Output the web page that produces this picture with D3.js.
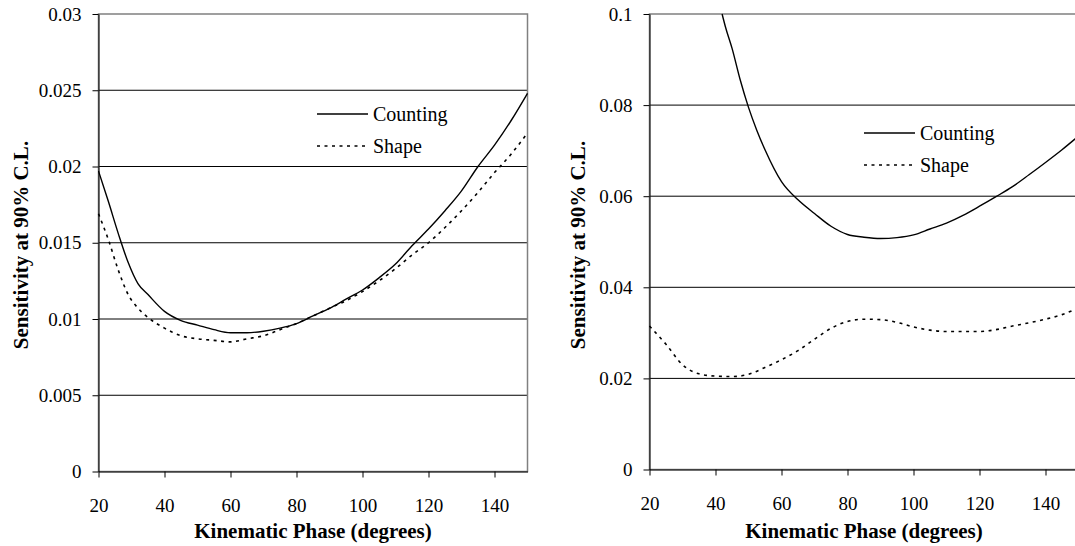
<!DOCTYPE html>
<html>
<head>
<meta charset="utf-8">
<script src="https://cdn.jsdelivr.net/npm/d3@7"></script>
<style>
  body { margin: 0; background: #fff; }
  svg, svg text { font-family: "Liberation Serif", "Times New Roman", serif; }
  svg { display: block; }
  .title { font-size: 21px; font-weight: bold; }
  .legend text { font-size: 20px; }
</style>
</head>
<body>
<div id="wrapper"></div>
<script>
// left panel
const leftPhase = [20, 23, 26, 29, 32, 35, 40, 45, 50, 55, 60, 65, 70, 75, 80, 85, 90, 95,
  100, 105, 110, 115, 120, 125, 130, 135, 140, 145, 150];
const leftCounting = [0.0197, 0.0177, 0.0156, 0.0137, 0.0123, 0.0116, 0.0105, 0.0099, 0.0096,
  0.0093, 0.0091, 0.0091, 0.0092, 0.0094, 0.0097, 0.0102, 0.0107, 0.0113, 0.0119, 0.0127,
  0.0136, 0.0148, 0.0159, 0.0171, 0.0184, 0.0200, 0.0214, 0.0230, 0.0248];
const leftShape = [0.0169, 0.0152, 0.0132, 0.0116, 0.0107, 0.0101, 0.0094, 0.0089, 0.0087,
  0.0086, 0.0085, 0.0087, 0.0089, 0.0093, 0.0097, 0.0102, 0.0107, 0.0112, 0.0118, 0.0125,
  0.0133, 0.0142, 0.0150, 0.0160, 0.0171, 0.0183, 0.0196, 0.0208, 0.0222];
const leftTicks = [0, 0.005, 0.01, 0.015, 0.02, 0.025, 0.03];

// right panel
const rightCountPhase = [42, 43, 45, 47.5, 50, 52.5, 55, 60, 65, 70, 75, 80, 85, 90, 95, 100,
  105, 110, 115, 120, 125, 130, 135, 140, 145, 150];
const rightCounting = [0.1, 0.0972, 0.0925, 0.0855, 0.0795, 0.0745, 0.0702, 0.0632, 0.0592,
  0.0562, 0.0534, 0.0516, 0.0510, 0.0507, 0.0509, 0.0515, 0.0528, 0.0541, 0.0558, 0.0578,
  0.0599, 0.0621, 0.0647, 0.0674, 0.0702, 0.0732];
const rightShapePhase = [20, 25, 30, 35, 40, 45, 50, 55, 60, 65, 70, 75, 80, 85, 90, 95, 100,
  105, 110, 115, 120, 125, 130, 135, 140, 145, 150];
const rightShape = [0.0315, 0.0275, 0.0230, 0.0210, 0.0205, 0.0204, 0.0209, 0.0224, 0.0241,
  0.0261, 0.0286, 0.0310, 0.0325, 0.0330, 0.0329, 0.0323, 0.0313, 0.0306, 0.0303, 0.0303,
  0.0303, 0.0307, 0.0315, 0.0322, 0.0330, 0.0340, 0.0355];
const rightTicks = [0, 0.02, 0.04, 0.06, 0.08, 0.1];

const phaseTicks = [20, 40, 60, 80, 100, 120, 140];
const seriesNames = ["Counting", "Shape"];
const xTitle = "Kinematic Phase (degrees)";
const yTitle = "Sensitivity at 90% C.L.";

const svg = d3.select("#wrapper")
  .append("svg")
  .attr("width", 1075)
  .attr("height", 546);

function zip(xs, ys) {
  return xs.map((x, i) => ({x: x, y: ys[i]}));
}

function drawPanel(opt) {
  var x = d3.scaleLinear().domain([20, 150]).range([opt.left, opt.right]);
  var y = d3.scaleLinear().domain([0, opt.max]).range([opt.bottom, opt.top]);

  var g = svg.append("g");

  // grid lines
  g.selectAll("line.grid")
    .data(opt.ticks.filter(d => d > 0 && d < opt.max))
    .enter()
    .append("line")
    .attr("class", "grid")
    .attr("x1", opt.left)
    .attr("x2", opt.right)
    .attr("y1", d => y(d))
    .attr("y2", d => y(d))
    .attr("stroke", "#000")
    .attr("stroke-width", 1);

  // plot border (top / right)
  g.append("rect")
    .attr("x", opt.left)
    .attr("y", opt.top)
    .attr("width", opt.right - opt.left)
    .attr("height", opt.bottom - opt.top)
    .attr("fill", "none")
    .attr("stroke", "#808080")
    .attr("stroke-width", 1.5);

  var line = d3.line()
    .x(d => x(d.x))
    .y(d => y(d.y))
    .curve(d3.curveMonotoneX);

  g.append("path")
    .datum(opt.counting)
    .attr("d", line)
    .attr("fill", "none")
    .attr("stroke", "#000")
    .attr("stroke-width", 1.4);

  g.append("path")
    .datum(opt.shape)
    .attr("d", line)
    .attr("fill", "none")
    .attr("stroke", "#000")
    .attr("stroke-width", 1.6)
    .attr("stroke-dasharray", "3,4.5");

  // axes
  g.append("g")
    .attr("transform", `translate(${opt.left},0)`)
    .call(d3.axisLeft(y)
      .tickValues(opt.ticks)
      .tickFormat(d => String(+d.toFixed(3)))
      .tickSizeInner(6)
      .tickSizeOuter(0)
      .tickPadding(11))
    .call(a => a.selectAll("line, path").attr("stroke", "#000"))
    .call(a => a.selectAll("text")
      .style("font-family", "'Liberation Serif', 'Times New Roman', serif")
      .style("font-size", "19px"));

  g.append("g")
    .attr("transform", `translate(0,${opt.bottom})`)
    .call(d3.axisBottom(x)
      .tickValues(phaseTicks)
      .tickSizeInner(6)
      .tickSizeOuter(0)
      .tickPadding(21))
    .call(a => a.selectAll("line, path").attr("stroke", "#000"))
    .call(a => a.selectAll("text")
      .style("font-family", "'Liberation Serif', 'Times New Roman', serif")
      .style("font-size", "19px"));

  // titles
  g.append("text")
    .attr("class", "title")
    .attr("x", (opt.left + opt.right) / 2)
    .attr("y", 538)
    .attr("text-anchor", "middle")
    .text(xTitle);

  g.append("text")
    .attr("class", "title")
    .attr("transform", `translate(${opt.yTitleX},245) rotate(-90)`)
    .attr("text-anchor", "middle")
    .text(yTitle);

  // legend
  var leg = g.append("g").attr("class", "legend");
  seriesNames.forEach((name, i) => {
    var ly = opt.legendY + i * 32;
    leg.append("line")
      .attr("x1", opt.legendX)
      .attr("x2", opt.legendX + 51)
      .attr("y1", ly)
      .attr("y2", ly)
      .attr("stroke", "#000")
      .attr("stroke-width", i ? 1.6 : 1.4)
      .attr("stroke-dasharray", i ? "3,4.5" : null);
    leg.append("text")
      .attr("x", opt.legendX + 56)
      .attr("y", ly + 7)
      .text(name);
  });
}

drawPanel({
  left: 98.5, right: 527.5, top: 14, bottom: 471.5, max: 0.03,
  ticks: leftTicks,
  counting: zip(leftPhase, leftCounting),
  shape: zip(leftPhase, leftShape),
  yTitleX: 28, legendX: 317, legendY: 114
});

drawPanel({
  left: 649.5, right: 1078.5, top: 14, bottom: 469.5, max: 0.1,
  ticks: rightTicks,
  counting: zip(rightCountPhase, rightCounting),
  shape: zip(rightShapePhase, rightShape),
  yTitleX: 585, legendX: 864, legendY: 133
});
</script>
</body>
</html>
